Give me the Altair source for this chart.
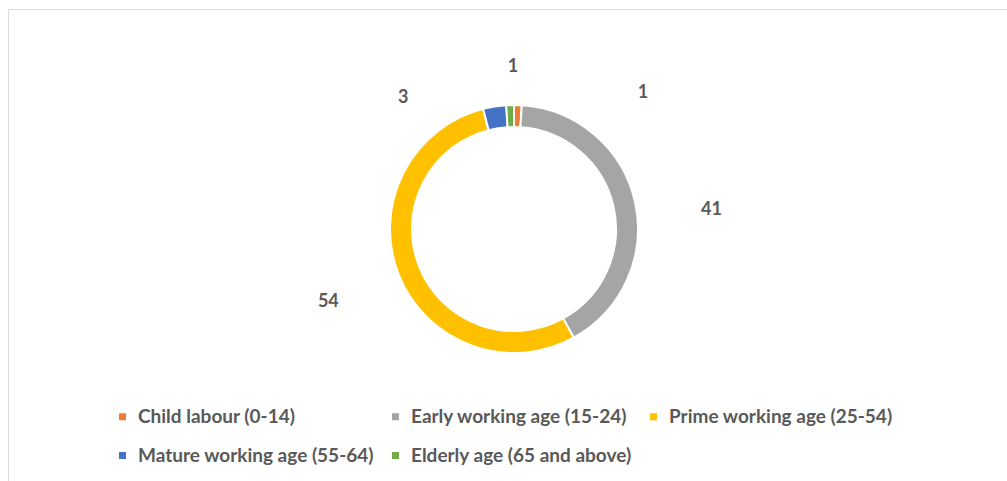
import altair as alt
import pandas as pd

# ---- data ----
categories = [
    "Child labour (0-14)",
    "Early working age (15-24)",
    "Prime working age (25-54)",
    "Mature working age (55-64)",
    "Elderly age (65 and above)",
]
values = [1, 41, 54, 3, 1]

# ---- styles ----
colors = ["#ED7D31", "#A5A5A5", "#FFC000", "#4472C4", "#70AD47"]
label_dx = [123, 12, -9, -81, 5]
label_dy = [54, 22, 3, 57, 28]

df = pd.DataFrame({"category": categories, "value": values, "order": list(range(len(categories)))})

W, H = 999, 472
cx, cy = 506, 220

base = alt.Chart(df)

arc = base.mark_arc(innerRadius=102, outerRadius=124, stroke="white", strokeWidth=2).encode(
    theta=alt.Theta("value:Q", stack=True),
    order=alt.Order("order:Q"),
    color=alt.Color(
        "category:N",
        scale=alt.Scale(domain=categories, range=colors),
        sort=categories,
        legend=alt.Legend(
            orient="none", legendX=105, legendY=398, direction="horizontal", columns=3,
            title=None, symbolType="square", symbolSize=49, symbolStrokeWidth=0,
            labelFont="Lato", labelFontSize=19, labelFontWeight="bold", labelColor="#595959",
            labelLimit=400, columnPadding=12, rowPadding=19, labelOffset=6, padding=0,
        ),
    ),
    x=alt.value(cx),
    y=alt.value(cy),
)

layers = [arc]
for i, c in enumerate(categories):
    layers.append(
        base.transform_window(cum="sum(value)", sort=[alt.SortField("order")], frame=[None, 0])
        .transform_calculate(mid="datum.cum - datum.value / 2")
        .transform_filter(alt.datum.category == c)
        .mark_text(radius=190, dx=label_dx[i], dy=label_dy[i], font="Lato", fontSize=18,
                   fontWeight="bold", color="#595959", align="center", baseline="middle")
        .encode(
            theta=alt.Theta("mid:Q", scale=alt.Scale(domain=[0, sum(values)])),
            text="value:Q",
            x=alt.value(cx),
            y=alt.value(cy),
        )
    )

chart = (
    alt.layer(*layers)
    .resolve_scale(theta="independent")
    .properties(width=W, height=H, padding={"left": 8, "top": 9, "right": 0, "bottom": 0}, autosize="none")
    .configure_view(stroke="#D9D9D9", strokeWidth=1, strokeDash=[W, H + W, H, 0])
    .configure(background="white")
)

chart.save("out.html", embed_options={"renderer": "svg", "actions": False})
